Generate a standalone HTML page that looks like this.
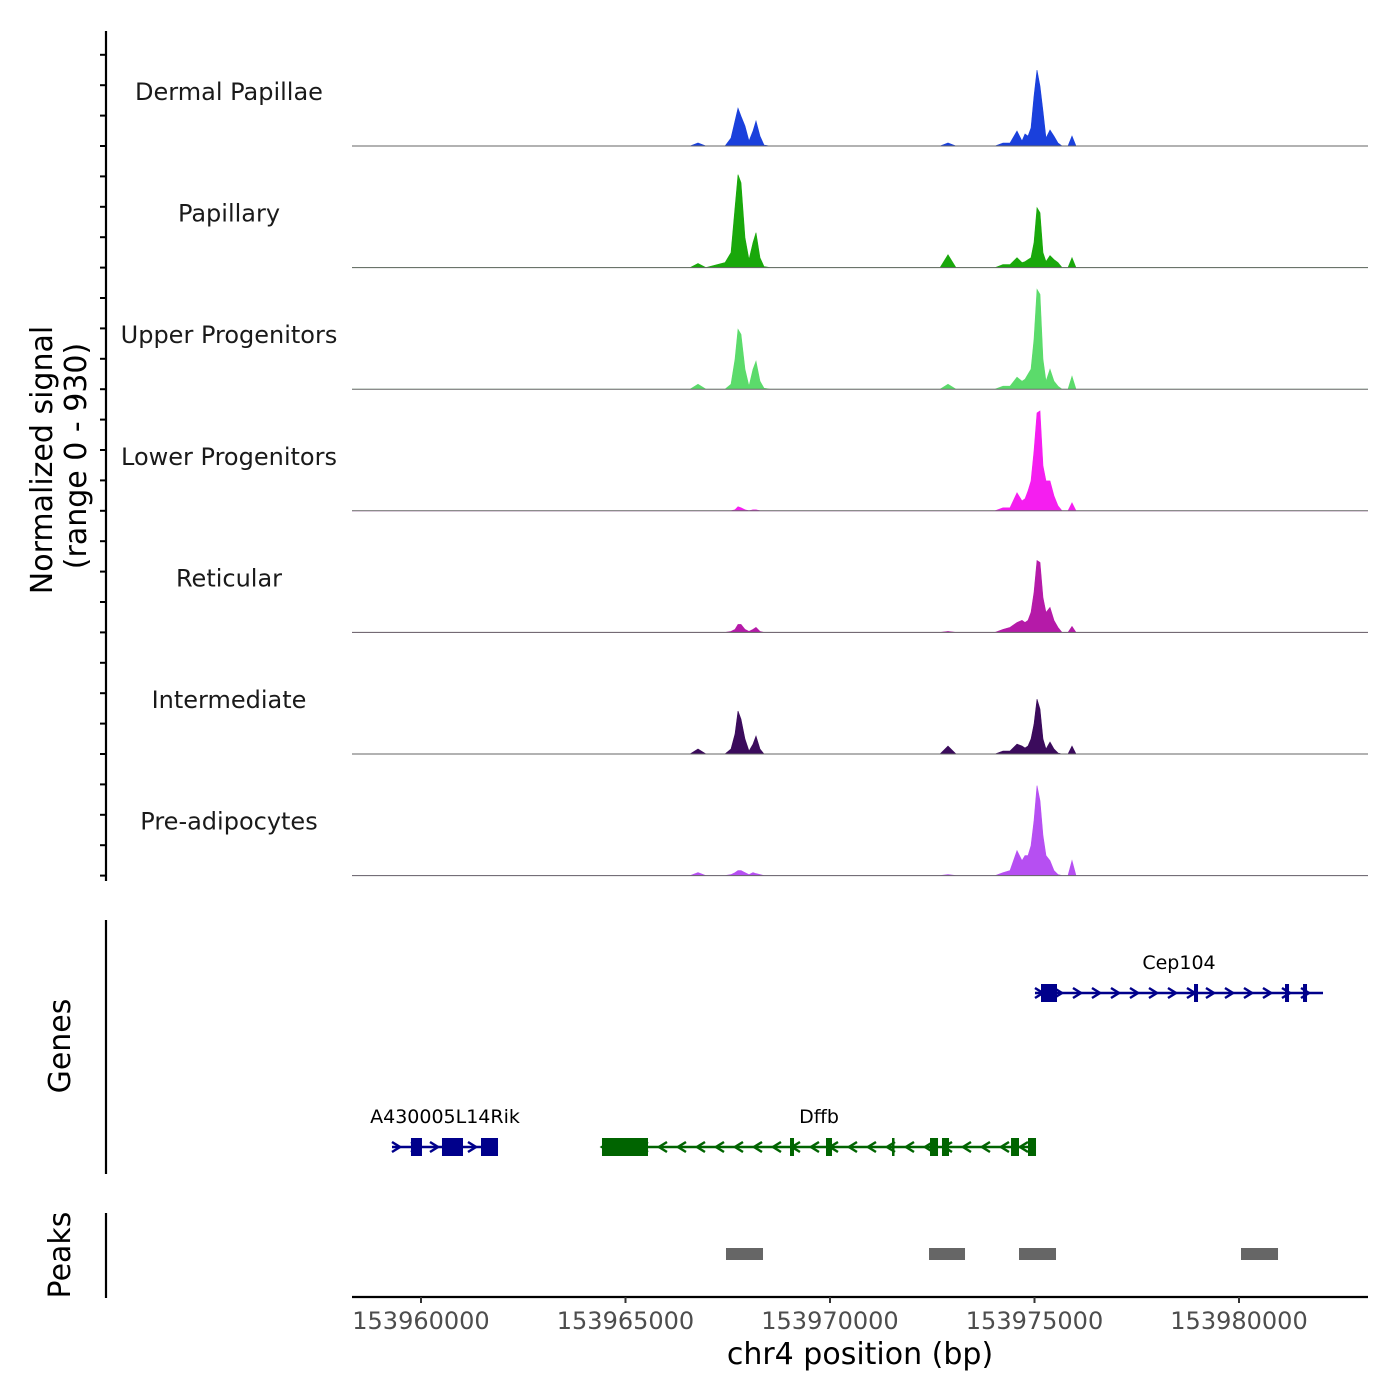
<!DOCTYPE html>
<html><head><meta charset="utf-8"><style>
html,body{margin:0;padding:0;background:#fff}
svg{display:block;font-family:"DejaVu Sans","Liberation Sans",sans-serif}
</style></head><body>
<svg id="chart" width="1400" height="1400" viewBox="0 0 1400 1400">
<g id="tracks"></g>
<g id="genes"></g>
<g id="peaks"></g>
<g id="axes"></g>
</svg>
<script>
const positions=[153958313,153959487,153963399,153964866,153966577,153966773,153966968,153967433,153967580,153967677,153967751,153967824,153967922,153968020,153968117,153968191,153968289,153968386,153968533,153971712,153972690,153972885,153973081,153974034,153974230,153974401,153974572,153974694,153974768,153974841,153974915,153974988,153975061,153975135,153975208,153975281,153975379,153975477,153975575,153975672,153975819,153975917,153976015,153976602,153980758,153983154];
const trackNames=["Dermal Papillae","Papillary","Upper Progenitors","Lower Progenitors","Reticular","Intermediate","Pre-adipocytes"];
const trackColors=["#1a40dc","#19a80b","#5bdb6b","#f51ef0","#b51aa8","#3b0b5c","#b64ff2"];
const sigDermal=[0,0,0,0,0,23,0,0,61,191,290,229,153,38,115,191,76,8,0,0,0,23,0,0,23,23,115,38,92,76,138,382,581,458,267,61,122,76,23,0,0,76,0,0,0,0];
const sigPapillary=[0,0,0,0,0,31,0,38,115,458,711,649,229,61,191,267,76,8,0,0,0,99,0,0,23,23,76,38,46,61,76,191,458,420,115,46,92,61,38,0,0,76,0,0,0,0];
const sigUpper=[0,0,0,0,0,38,0,0,38,229,458,420,153,23,153,214,61,8,0,0,0,38,0,0,23,23,92,61,76,115,153,382,764,726,229,61,153,61,23,0,0,99,0,0,0,0];
const sigLower=[0,0,0,0,0,0,0,0,0,8,31,23,8,0,8,8,0,0,0,0,0,0,0,0,23,23,138,76,92,153,229,458,749,764,344,229,229,115,38,0,0,61,0,0,0,0];
const sigReticular=[0,0,0,0,0,0,0,0,8,23,61,61,23,8,23,38,8,0,0,0,0,8,0,0,23,38,76,92,76,92,153,306,550,535,267,153,191,92,38,0,0,46,0,0,0,0];
const sigIntermediate=[0,0,0,0,0,38,0,0,38,153,329,267,115,23,76,138,38,0,0,0,0,61,0,0,23,23,76,61,46,61,115,229,420,344,115,38,92,38,8,0,0,61,0,0,0,0];
const sigPre=[0,0,0,0,0,23,0,0,8,23,38,38,23,8,23,15,8,0,0,0,0,8,0,0,23,38,191,115,153,153,229,420,688,573,306,153,115,38,8,0,0,115,0,0,0,0];
const signals=[sigDermal,sigPapillary,sigUpper,sigLower,sigReticular,sigIntermediate,sigPre];
const yMax=930;
const xTicks=[153960000,153965000,153970000,153975000,153980000];
const geneNames=["Cep104","A430005L14Rik","Dffb"];
const geneStarts=[153975012,153959291,153964425];
const geneEnds=[153982054,153961883,153975037];
const geneStrands=[1,1,-1];
const geneRows=[0,1,1];
const geneColors=["#00008b","#00008b","#006400"];
const exonStarts=[[153975159,153978900,153981125,153981565],[153959755,153960513,153961467],[153964425,153969022,153969902,153971516,153972445,153972738,153974426,153974841]];
const exonEnds=[[153975550,153978998,153981223,153981663],[153960024,153961027,153961883],[153965550,153969120,153970049,153971565,153972641,153972910,153974621,153975037]];
const peakStarts=[153967457,153972421,153974621,153980049];
const peakEnds=[153968362,153973301,153975526,153980954];

const NS="http://www.w3.org/2000/svg";
const X0=352,X1=1368,BP0=153958313,BP1=153983154;
function xs(bp){return X0+(bp-BP0)/(BP1-BP0)*(X1-X0);}
const trackH=121.6, firstBase=146;
function el(tag,attrs,parent){const e=document.createElementNS(NS,tag);for(const k in attrs)e.setAttribute(k,attrs[k]);parent.appendChild(e);return e;}
const gT=document.getElementById('tracks');
signals.forEach((s,i)=>{
  const base=firstBase+i*trackH;
  const ys=v=>base-v/yMax*trackH;
  let d="M"+xs(positions[0])+","+base;
  positions.forEach((p,j)=>{d+=" L"+xs(p).toFixed(1)+","+ys(s[j]).toFixed(1);});
  d+=" L"+xs(positions[positions.length-1])+","+base+" Z";
  const a=el('path',{d:d,fill:trackColors[i],stroke:trackColors[i],'stroke-width':0.6},gT);
  
  
  const l=el('line',{x1:X0,x2:X1,y1:base,y2:base,stroke:'#666','stroke-width':1},gT);
  
  
  const t=el('text',{x:229,y:base-46,'text-anchor':'middle','font-size':24,fill:'#1a1a1a'},gT);
  t.textContent=trackNames[i];
  
  
});
const gG=document.getElementById('genes');
const rowY=[993,1147];
geneNames.forEach((n,i)=>{
  const y=rowY[geneRows[i]],c=geneColors[i];
  const g=el('g',{},gG);
  
  
  const x1=xs(geneStarts[i]),x2=xs(geneEnds[i]);
  el('line',{x1:x1,x2:x2,y1:y,y2:y,stroke:c,'stroke-width':2.5},g);
  for(let x=x1+4;x<x2-2;x+=19){
    const dx=geneStrands[i]*4;
    el('polyline',{points:(x-dx)+","+(y-5)+" "+(x+dx)+","+y+" "+(x-dx)+","+(y+5),fill:'none',stroke:c,'stroke-width':2.5},g);
  }
  exonStarts[i].forEach((s,j)=>{
    const a=xs(s),b=xs(exonEnds[i][j]);
    el('rect',{x:a,y:y-9,width:Math.max(b-a,2.5),height:18,fill:c},g);
  });
  const t=el('text',{x:(x1+x2)/2,y:y-24,'text-anchor':'middle','font-size':19,fill:'#000'},g);
  t.textContent=n;
});
const gP=document.getElementById('peaks');
peakStarts.forEach((s,i)=>{
  const r=el('rect',{x:xs(s),y:1248,width:xs(peakEnds[i])-xs(s),height:12,fill:'#666'},gP);
  
  
});
const gA=document.getElementById('axes');
function ax(x,y1,y2,name){const l=el('line',{x1:x,x2:x,y1:y1,y2:y2,stroke:'#000','stroke-width':2.2},gA);}
ax(106,31,881,'y-axis-signal');ax(106,920,1174,'y-axis-genes');ax(106,1213,1298,'y-axis-peaks');
for(let i=0;i<7;i++){const base=firstBase+i*trackH;
  [0,0.25,0.5,0.75].forEach(f=>{const y=base-f*trackH;if(y>30)el('line',{x1:100,x2:106,y1:y,y2:y,stroke:'#000','stroke-width':2},gA);});}
el('line',{x1:X0,x2:X1,y1:1297,y2:1297,stroke:'#000','stroke-width':2.2},gA);
xTicks.forEach(v=>{const x=xs(v);
  el('line',{x1:x,x2:x,y1:1297,y2:1303,stroke:'#333','stroke-width':2},gA);
  const t=el('text',{x:x,y:1329,'text-anchor':'middle','font-size':24,fill:'#4d4d4d'},gA);t.textContent=v;
  
  });
function txt(s,x,y,size,rot,name){const t=el('text',{x:x,y:y,'text-anchor':'middle','font-size':size,fill:'#000'},gA);if(rot)t.setAttribute('transform','rotate(-90 '+x+' '+y+')');t.textContent=s;return t;}
txt('chr4 position (bp)',860,1364,30,false,'x-axis-title');
txt('Normalized signal',52,460,30,true,'y-axis-title');
txt('(range 0 - 930)',86,456,30,true,'y-axis-subtitle');
txt('Genes',70,1046,30,true,'genes-label');
txt('Peaks',70,1255,30,true,'peaks-label');
</script>
</body></html>
